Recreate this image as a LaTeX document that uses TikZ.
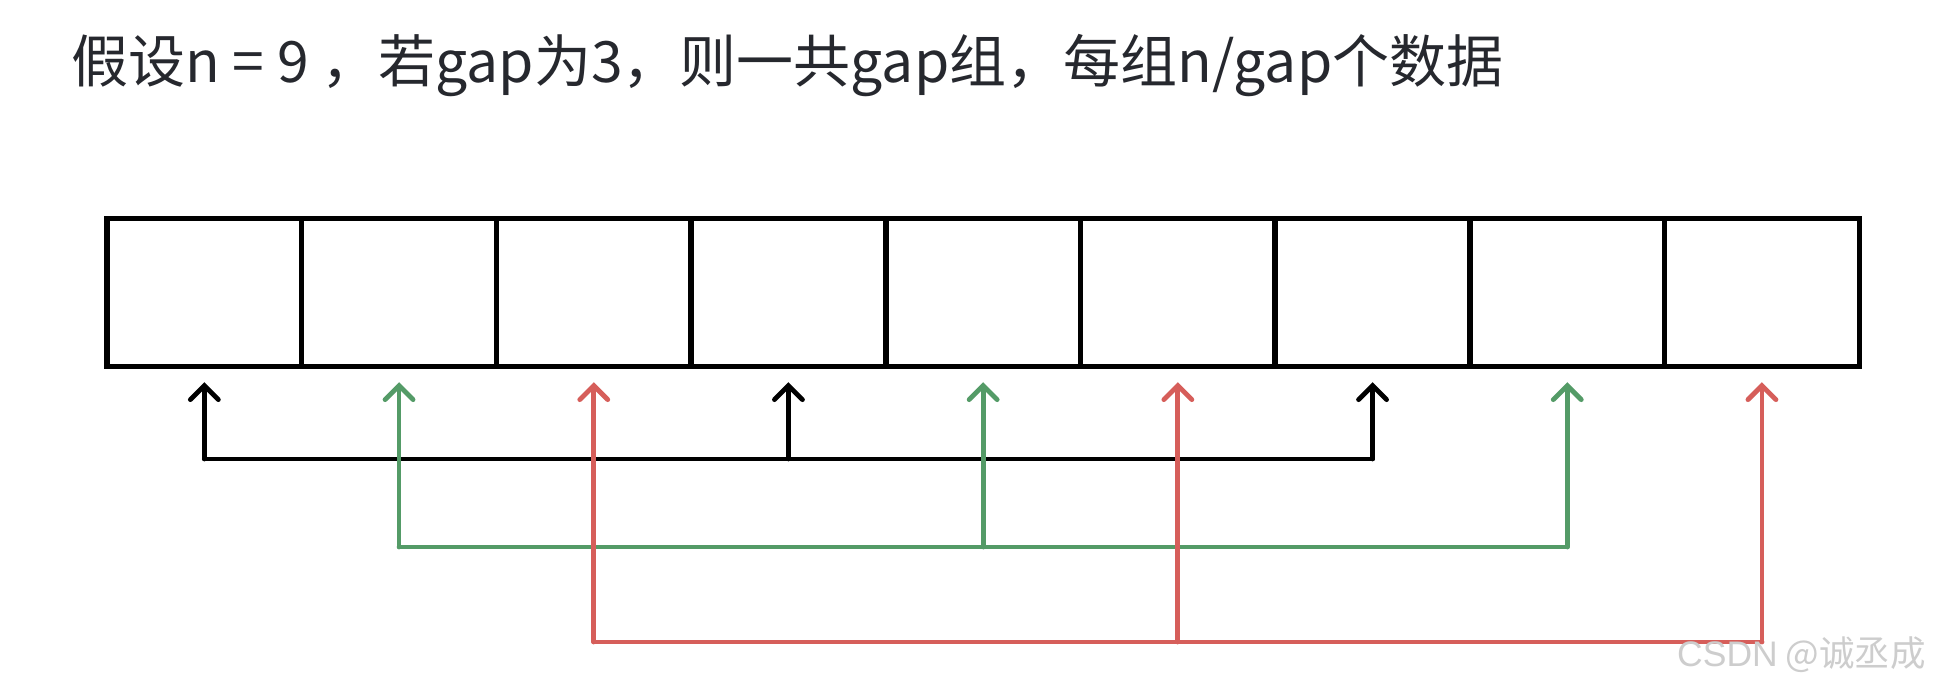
\documentclass[tikz,border=0pt]{standalone}
\usepackage{fontspec}
\newfontfamily\cjk{Noto Sans CJK SC}
\newfontfamily\wmlat{Liberation Sans}
\usetikzlibrary{arrows.meta,calc}
\definecolor{grp1}{RGB}{0,0,0}
\definecolor{grp2}{RGB}{84,155,103}
\definecolor{grp3}{RGB}{214,94,90}
\definecolor{titlecol}{RGB}{38,40,46}
\definecolor{wmcol}{RGB}{205,205,205}
\begin{document}
\begin{tikzpicture}[x=1pt,y=1pt,
  cell/.style={draw=black,line width=5.5pt,minimum width=194.7pt,minimum height=148pt,inner sep=0pt},
  conn/.style={line width=4.8pt,line cap=round,line join=miter},
  up/.style={conn,-{Straight Barb[length=14pt,width=28pt,line cap=round]}}
]
\useasboundingbox (0,0) rectangle (1933,685);
\fill[white] (0,0) rectangle (1933,685);
% title
\node[anchor=base west,inner sep=0pt,text=titlecol,font=\cjk\fontsize{57}{62}\selectfont] (title) at (71,602) {假设n = 9 ，若gap为3，则一共gap组，每组n/gap个数据};
% cells
\foreach \i in {1,...,9}{
  \node[cell] (c\i) at ({107+194.7*(\i-0.5)},392.5) {};
}
\coordinate (lv1) at (0,226);
\coordinate (lv2) at (0,138);
\coordinate (lv3) at (0,43);
\foreach \i in {1,...,9}{
  \path (c\i.south) ++(0,-13) coordinate (t\i);
}
% group 1 (black)
\draw[conn,grp1] (t1 |- lv1) -- (t7 |- lv1);
\draw[up,grp1] (t1 |- lv1) -- (t1);
\draw[up,grp1] (t4 |- lv1) -- (t4);
\draw[up,grp1] (t7 |- lv1) -- (t7);
% group 2 (green)
\draw[conn,grp2] (t2 |- lv2) -- (t8 |- lv2);
\draw[up,grp2] (t2 |- lv2) -- (t2);
\draw[up,grp2] (t5 |- lv2) -- (t5);
\draw[up,grp2] (t8 |- lv2) -- (t8);
% group 3 (red)
\draw[conn,grp3] (t3 |- lv3) -- (t9 |- lv3);
\draw[up,grp3] (t3 |- lv3) -- (t3);
\draw[up,grp3] (t6 |- lv3) -- (t6);
\draw[up,grp3] (t9 |- lv3) -- (t9);
% watermark
\node[anchor=base east,inner sep=0pt,text=wmcol,font=\cjk\fontsize{35.5}{38}\selectfont] (wm) at (1926,18) {{\wmlat CSDN} @诚丞成};
\end{tikzpicture}
\end{document}
